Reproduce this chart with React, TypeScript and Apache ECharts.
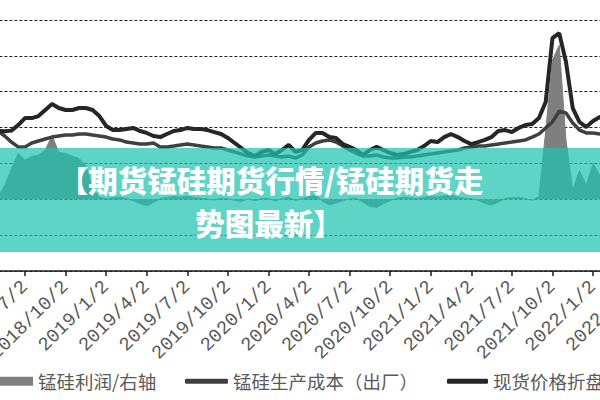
import React, { useEffect, useRef } from "react";
import * as echarts from "echarts";

// Category dates: the 2nd and 17th of each month, 2018/4/2 .. 2022/4/2
const firstYear = 2018;
const firstMonth = 4;
const lastYear = 2022;
const lastMonth = 4;
const monthDays = [2, 17];

const categories: string[] = [];
for (let y = firstYear; y <= lastYear; y++) {
  for (let m = 1; m <= 12; m++) {
    if (y === firstYear && m < firstMonth) continue;
    if (y === lastYear && m > lastMonth) break;
    for (const d of monthDays) {
      if (y === lastYear && m === lastMonth && d !== monthDays[0]) continue;
      categories.push(`${y}/${m}/${d}`);
    }
  }
}

// Shown tick labels (quarter starts)
const tickLabels = [
  "2018/4/2", "2018/7/2", "2018/10/2", "2019/1/2", "2019/4/2", "2019/7/2",
  "2019/10/2", "2020/1/2", "2020/4/2", "2020/7/2", "2020/10/2", "2021/1/2",
  "2021/4/2", "2021/7/2", "2021/10/2", "2022/1/2", "2022/4/2",
];

// 锰硅利润 (right axis)
const profit = [
  -110, -30, 80, 390, 860,
  1280, 1090, 1200, 1230, 1370,
  1780, 1310, 1280, 1200, 1140,
  920, 310, 60, 20, 40,
  60, 30, -40, -120, -180,
  -90, 20, 50, 80, 60,
  90, 40, 30, 10, -20,
  30, 20, -30, -60, 10,
  -40, 20, 30, -50, 20,
  60, -30, 20, 80, 120,
  -60, -150, -110, -40, 20,
  30, -80, -200, -230, -120,
  -40, 30, 60, 40, 20,
  50, 90, 60, 100, 120,
  60, 30, 20, -30, -110,
  -160, -80, 30, 40, 60,
  20, -30, 80, 1900, 3880,
  4300, 1650, 250, 800, 390,
  1000, 670, 800,
];

// 锰硅生产成本（出厂）
const cost = [
  7980, 7920, 7810, 7530, 7190,
  6920, 6920, 7140, 7250, 7360,
  7470, 7530, 7580, 7580, 7640,
  7640, 7580, 7530, 7470, 7360,
  7310, 7190, 7140, 7080, 7080,
  7140, 6920, 6920, 6970, 7030,
  7080, 7030, 6970, 6920, 6860,
  6860, 6750, 6640, 6520, 6410,
  6360, 6410, 6470, 6410, 6360,
  6410, 6300, 6470, 6920, 7140,
  7250, 7310, 7190, 6970, 6750,
  6580, 6410, 6410, 6470, 6360,
  6300, 6300, 6360, 6360, 6410,
  6470, 6520, 6580, 6640, 6690,
  6750, 6860, 6920, 6970, 6970,
  7030, 7080, 7140, 7190, 7250,
  7310, 7470, 7640, 7980, 8310,
  8920, 8810, 8250, 7860, 7700,
  7700, 7640, 7580,
];

// 现货价格折盘面
const price = [
  7810, 7810, 7810, 7800, 7830,
  8140, 8530, 8530, 8640, 8980,
  9310, 9090, 8980, 8980, 9090,
  9090, 8980, 8640, 8090, 7860,
  7860, 7920, 7980, 7810, 7700,
  7530, 7470, 7640, 7810, 7860,
  7980, 7920, 7920, 7860, 7750,
  7640, 7420, 7140, 6860, 6580,
  6410, 6640, 6750, 6520, 6750,
  7030, 6640, 6750, 7310, 7700,
  7700, 7470, 7420, 7080, 6920,
  6750, 6470, 6750, 6920, 6750,
  6580, 6470, 6520, 6640, 6750,
  6970, 7250, 7190, 7470, 7640,
  7470, 7250, 7080, 7190, 7310,
  7470, 7810, 7860, 7750, 7980,
  8140, 8200, 8530, 9430, 12990,
  13270, 11660, 9090, 8310, 8030,
  8370, 8590, 8530,
];

const seriesNames = ["锰硅利润/右轴", "锰硅生产成本（出厂）", "现货价格折盘面"];
const bannerLines = ["【期货锰硅期货行情/锰硅期货走", "势图最新】"];

const SHIFT = 100; // chart div is shifted left, page x = chart x - SHIFT
const CHART_W = 900;

export default function App() {
  const ref = useRef<HTMLDivElement>(null);
  useEffect(() => {
    if (!ref.current) return;
    const chart = echarts.init(ref.current, undefined, { renderer: "svg" });
    const isTick = (i: number) => tickLabels.indexOf(categories[i]) >= 0;
    const legendText = {
      fontFamily: "Noto Sans CJK SC",
      fontSize: 18.5,
      color: "#5a5a5a",
    };
    chart.setOption({
      animation: false,
      backgroundColor: "#ffffff",
      grid: {
        left: 84.4,
        right: 166.4,
        top: 20,
        bottom: 129,
        containLabel: false,
        outerBoundsMode: "none",
      },
      legend: [
        {
          data: [{ name: seriesNames[0], icon: "rect" }],
          left: SHIFT - 9,
          top: 372,
          padding: 0,
          itemWidth: 42,
          itemHeight: 9,
          selectedMode: false,
          textStyle: legendText,
        },
        {
          data: [{ name: seriesNames[1], icon: "roundRect" }],
          left: SHIFT + 185,
          top: 372,
          padding: 0,
          itemWidth: 43,
          itemHeight: 5,
          selectedMode: false,
          textStyle: legendText,
        },
        {
          data: [{ name: seriesNames[2], icon: "roundRect" }],
          left: SHIFT + 447,
          top: 372,
          padding: 0,
          itemWidth: 41,
          itemHeight: 5,
          selectedMode: false,
          textStyle: legendText,
        },
      ],
      xAxis: {
        type: "category",
        data: categories,
        boundaryGap: false,
        axisLine: { lineStyle: { color: "#1a1a1a", width: 1.5 } },
        axisTick: {
          show: true,
          interval: (i: number) => isTick(i),
          length: 5,
          lineStyle: { color: "#1a1a1a", width: 1.5 },
        },
        axisLabel: {
          interval: (i: number) => isTick(i),
          rotate: 45,
          margin: 13,
          fontFamily: "Liberation Mono",
          fontSize: 19,
          color: "#595959",
        },
        splitLine: { show: false },
      },
      yAxis: [
        {
          type: "value",
          min: 0,
          max: 14000,
          interval: 2000,
          axisLine: { show: false },
          axisTick: { show: false },
          axisLabel: { show: false },
          splitLine: {
            show: true,
            lineStyle: { color: "#222222", width: 1, type: [3, 2] },
          },
        },
        {
          type: "value",
          min: -2000,
          max: 5000,
          interval: 1000,
          axisLine: { show: false },
          axisTick: { show: false },
          axisLabel: { show: false },
          splitLine: { show: false },
        },
      ],
      series: [
        {
          name: seriesNames[0],
          type: "line",
          yAxisIndex: 1,
          data: profit,
          symbol: "none",
          itemStyle: { color: "#7f7f7f" },
          lineStyle: { color: "#7f7f7f", width: 1 },
          areaStyle: { color: "#7f7f7f", opacity: 1 },
          z: 2,
        },
        {
          name: seriesNames[1],
          type: "line",
          data: cost,
          symbol: "none",
          itemStyle: { color: "#404040" },
          lineStyle: { color: "#404040", width: 3.5 },
          z: 3,
        },
        {
          name: seriesNames[2],
          type: "line",
          data: price,
          symbol: "none",
          itemStyle: { color: "#262626" },
          lineStyle: { color: "#262626", width: 4 },
          z: 4,
        },
      ],
      graphic: [
        {
          type: "rect",
          z: 100,
          shape: { x: SHIFT, y: 148, width: 600, height: 104 },
          style: { fill: "rgba(30,196,175,0.72)" },
          silent: true,
        },
        {
          type: "text",
          z: 101,
          x: SHIFT + 271,
          y: 179,
          style: {
            text: bannerLines[0],
            fill: "#ffffff",
            font: "900 29.5px 'Noto Sans CJK SC'",
            textAlign: "center",
            textVerticalAlign: "middle",
          },
        },
        {
          type: "text",
          z: 101,
          x: SHIFT + 269,
          y: 222,
          style: {
            text: bannerLines[1],
            fill: "#ffffff",
            font: "900 29.5px 'Noto Sans CJK SC'",
            textAlign: "center",
            textVerticalAlign: "middle",
          },
        },
      ],
    });
    return () => chart.dispose();
  }, []);

  return (
    <div
      style={{
        position: "fixed",
        left: 0,
        top: 0,
        width: 600,
        height: 400,
        overflow: "hidden",
        background: "#ffffff",
      }}
    >
      <div
        ref={ref}
        style={{ position: "absolute", left: -SHIFT, top: 0, width: CHART_W, height: 400 }}
      />
    </div>
  );
}
